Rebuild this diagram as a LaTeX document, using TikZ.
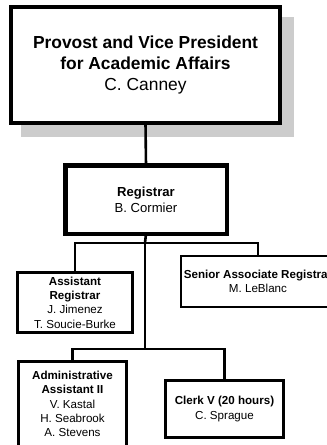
\documentclass[tikz,border=0pt]{standalone}
\usepackage{fontspec}
\setmainfont{Liberation Sans}
\begin{document}
\begin{tikzpicture}[x=1pt,y=1pt,
  box/.style={draw=black,fill=white,rectangle,inner sep=0pt,outer sep=0pt,align=center,text=black},
  bigfont/.style={font=\fontsize{17.4}{21}\selectfont},
  midfont/.style={font=\fontsize{13.1}{16}\selectfont},
  smallfont/.style={font=\fontsize{11.6}{14.25}\selectfont},
  conn/.style={draw=black,line width=2.6pt}]
\useasboundingbox (0,0) rectangle (327,-445);
% shadow of top box
\fill[black!20] (21,-17) rectangle (294,-137);
% top box
\node[box,bigfont,line width=4pt,minimum width=269pt,minimum height=116pt] (top) at (145.5,-65)
  {\textbf{Provost and Vice President}\\\textbf{for Academic Affairs}\\C. Canney};
% registrar
\node[box,midfont,line width=4.5pt,minimum width=161.5pt,minimum height=68.5pt] (reg) at (146,-199.5)
  {\textbf{Registrar}\\B. Cormier};
% assistant registrar
\node[box,smallfont,line width=2.7pt,minimum width=115.3pt,minimum height=60.3pt] (asst) at (75,-302.5)
  {\textbf{Assistant}\\\textbf{Registrar}\\J. Jimenez\\T. Soucie-Burke};
% senior associate registrar
\node[box,smallfont,line width=2.2pt,minimum width=153.8pt,minimum height=50.8pt] (sen) at (258,-281.5)
  {\textbf{Senior Associate Registrar}\\M. LeBlanc};
% administrative assistant
\node[box,smallfont,line width=2.7pt,minimum width=108.3pt,minimum height=85.3pt] (adm) at (72.5,-404)
  {\textbf{Administrative}\\\textbf{Assistant II}\\V. Kastal\\H. Seabrook\\A. Stevens};
% clerk
\node[box,smallfont,line width=2.7pt,minimum width=118.3pt,minimum height=57.3pt] (clk) at (224.5,-409)
  {\textbf{Clerk V (20 hours)}\\C. Sprague};
% junctions
\coordinate (h1) at (145,-243);
\coordinate (h2) at (145,-349);
% connectors
\draw[conn] (top.south) -- (reg.north);
\draw[conn] (reg.south) -- (h1);
\draw[conn] (asst.north) |- (h1) -| (sen.north);
\draw[conn] (h1) -- (h2);
\draw[conn] (adm.north) |- (h2) -| (clk.north);
\end{tikzpicture}
\end{document}
